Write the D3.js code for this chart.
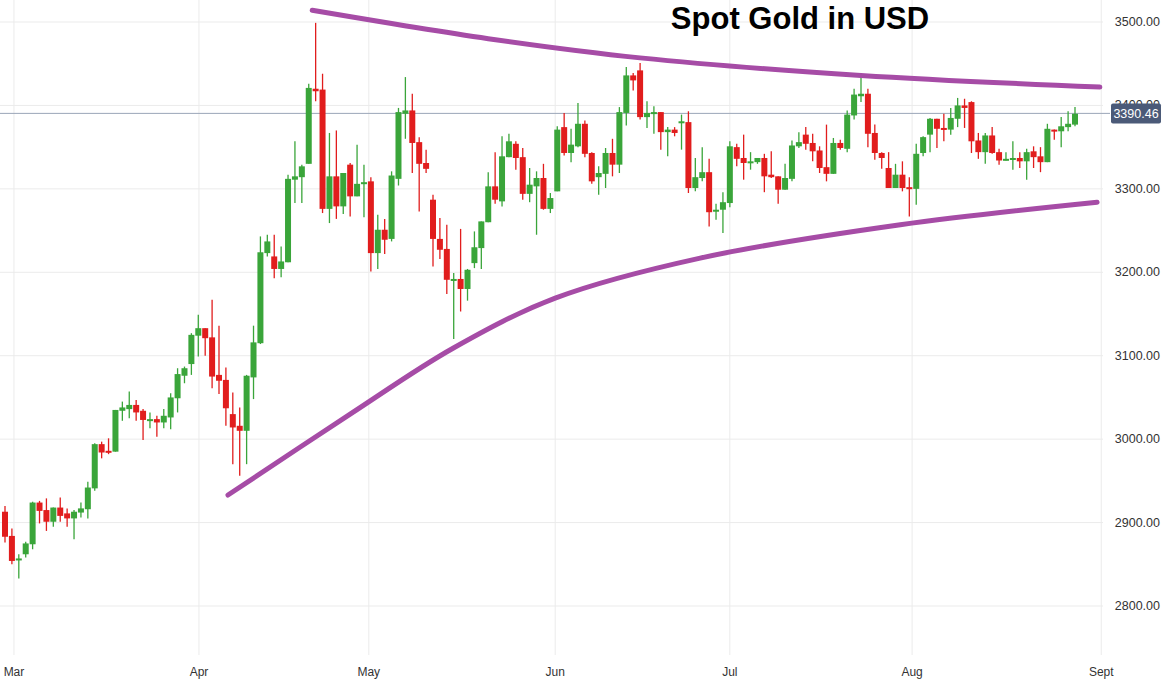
<!DOCTYPE html>
<html>
<head>
<meta charset="utf-8">
<script src="https://cdn.jsdelivr.net/npm/d3@7"></script>
<style>
body { margin: 0; background: #fff; }
svg { font-family: "Liberation Sans", Arial, sans-serif; }
</style>
</head>
<body>
<svg width="1165" height="685"></svg>
<script>
// daily candles, [open, high, low, close]
var candles = [
[2913,2920,2876,2883],[2884,2893,2850,2854],[2855,2862,2833,2857],[2862,2877,2858,2875],[2874,2925,2868,2924],
[2924,2926,2899,2914],[2915,2929,2890,2901],[2901,2918,2895,2918],[2918,2930,2901,2908],[2911,2917,2895,2905],
[2905,2915,2880,2913],[2912,2924,2906,2917],[2916,2949,2905,2942],[2941,2995,2938,2994],[2994,2997,2977,2984],
[2986,3001,2982,2985],[2985,3035,2985,3035],[3034,3045,3022,3038],[3036,3057,3025,3041],[3041,3047,3022,3032],
[3034,3036,2999,3023],[3023,3032,3013,3024],[3024,3028,3003,3020],[3020,3036,3013,3028],[3026,3055,3012,3050],
[3049,3085,3032,3078],[3076,3087,3067,3085],[3090,3127,3077,3125],[3124,3149,3099,3133],[3133,3133,3100,3121],
[3122,3167,3061,3075],[3077,3136,3054,3070],[3071,3086,3016,3037],[3030,3056,2970,3014],[3016,3038,2956,3010],
[3010,3077,2970,3076],[3074,3136,3048,3116],[3115,3243,3114,3224],[3223,3245,3219,3237],[3219,3245,3193,3204],
[3204,3231,3194,3213],[3212,3317,3212,3312],[3311,3357,3283,3315],[3314,3329,3283,3327],[3330,3426,3330,3421],
[3420,3499,3405,3417],[3419,3438,3271,3276],[3276,3367,3259,3315],[3315,3370,3264,3279],[3279,3319,3270,3319],
[3329,3331,3267,3291],[3291,3353,3291,3306],[3306,3329,3266,3308],[3309,3314,3201,3223],[3223,3269,3204,3251],
[3251,3264,3222,3239],[3240,3321,3237,3316],[3312,3397,3304,3392],[3390,3434,3360,3394],[3394,3414,3319,3355],
[3356,3362,3273,3330],[3331,3347,3319,3324],[3287,3293,3207,3240],[3240,3265,3216,3227],[3228,3257,3174,3191],
[3191,3199,3120,3192],[3192,3252,3153,3180],[3180,3204,3166,3203],[3211,3249,3205,3230],[3229,3261,3204,3261],
[3260,3320,3260,3303],[3303,3344,3282,3287],[3285,3363,3279,3339],[3338,3366,3338,3357],[3354,3357,3323,3337],
[3338,3349,3287,3294],[3294,3325,3284,3305],[3303,3321,3245,3313],[3313,3330,3275,3276],[3276,3295,3271,3289],
[3297,3375,3297,3371],[3374,3391,3340,3343],[3343,3372,3332,3353],[3351,3403,3350,3378],[3378,3382,3338,3342],
[3343,3344,3306,3309],[3314,3327,3293,3319],[3318,3349,3301,3343],[3343,3360,3315,3329],[3329,3398,3319,3392],
[3391,3446,3376,3436],[3436,3439,3418,3430],[3442,3451,3383,3386],[3386,3405,3373,3391],[3390,3399,3366,3392],
[3392,3392,3347,3368],[3368,3374,3339,3371],[3371,3374,3363,3367],[3380,3389,3347,3381],[3380,3393,3295,3301],
[3301,3337,3297,3314],[3313,3350,3309,3320],[3320,3336,3255,3272],[3273,3282,3263,3275],[3275,3296,3247,3284],
[3283,3357,3278,3351],[3350,3354,3327,3336],[3337,3365,3311,3331],[3331,3344,3323,3333],[3332,3337,3330,3337],
[3337,3342,3296,3315],[3317,3345,3313,3314],[3315,3315,3282,3299],[3299,3330,3299,3313],[3312,3358,3309,3352],
[3351,3368,3349,3356],[3365,3374,3347,3354],[3355,3366,3333,3345],[3346,3351,3319,3325],[3326,3377,3309,3318],
[3318,3361,3318,3355],[3355,3359,3347,3349],[3348,3394,3344,3389],[3388,3420,3383,3413],[3411,3439,3404,3414],
[3414,3420,3350,3366],[3367,3377,3335,3343],[3343,3344,3324,3337],[3325,3344,3301,3301],[3301,3330,3301,3317],
[3317,3333,3297,3301],[3302,3314,3267,3300],[3300,3354,3281,3342],[3343,3363,3339,3362],[3365,3385,3344,3384],
[3384,3384,3349,3372],[3373,3390,3357,3371],[3371,3397,3365,3385],[3384,3409,3374,3400],[3400,3408,3373,3397],
[3404,3405,3343,3357],[3358,3367,3336,3344],[3344,3367,3330,3364],[3364,3374,3342,3343],[3344,3348,3329,3334],
[3335,3344,3334,3336],[3335,3357,3323,3337],[3337,3344,3325,3333],[3333,3348,3311,3344],[3345,3351,3325,3338],
[3339,3350,3320,3332],[3332,3378,3332,3372],[3371,3371,3359,3369],[3369,3386,3350,3375],[3374,3393,3369,3378],
[3377,3398,3375,3390]
];

var monthLabels = ["Mar", "Apr", "May", "Jun", "Jul", "Aug", "Sept"];
var monthIndex = [1.3, 28.1, 52.7, 79.7, 105.0, 131.4, 158.8];
var priceTicks = [2800, 2900, 3000, 3100, 3200, 3300, 3400, 3500];
var lastPrice = 3390.46;

// hand drawn trend lines, [candle index, price]
var upperTrend = [[44.5, 3514], [70, 3480], [92, 3457], [124, 3436], [158.6, 3422]];
var lowerTrend = [[32.3, 2933], [50, 3030], [64.9, 3109], [79.7, 3169], [100.7, 3217], [129.7, 3257], [158.2, 3284]];

var svg = d3.select("svg");
var x = d3.scaleLinear().domain([0, 155]).range([5, 1075]);
var y = d3.scaleLinear().domain([2800, 3500]).range([606, 22]);

var grid = svg.append("g");
grid.selectAll(".hg").data(priceTicks).enter().append("line")
    .attr("x1", 0).attr("x2", 1103)
    .attr("y1", d => y(d)).attr("y2", d => y(d))
    .attr("stroke", "#ebebeb").attr("stroke-width", 1);
grid.selectAll(".vg").data(monthIndex).enter().append("line")
    .attr("x1", d => x(d)).attr("x2", d => x(d))
    .attr("y1", 0).attr("y2", 655)
    .attr("stroke", "#ebebeb").attr("stroke-width", 1);

svg.append("line")
    .attr("x1", 0).attr("x2", 1110)
    .attr("y1", y(lastPrice)).attr("y2", y(lastPrice))
    .attr("stroke", "#9aa6b8").attr("stroke-width", 1);

var up = "#3aa53a", down = "#e11d1d";
var g = svg.append("g");
var cg = g.selectAll("g").data(candles).enter().append("g")
    .attr("fill", d => d[3] >= d[0] ? up : down)
    .attr("stroke", d => d[3] >= d[0] ? up : down);
cg.append("line")
    .attr("x1", (d, i) => x(i)).attr("x2", (d, i) => x(i))
    .attr("y1", d => y(d[1])).attr("y2", d => y(d[2]))
    .attr("stroke-width", 1.3);
cg.append("rect")
    .attr("x", (d, i) => x(i) - 3)
    .attr("width", 6)
    .attr("y", d => y(Math.max(d[0], d[3])))
    .attr("height", d => Math.max(2, Math.abs(y(d[0]) - y(d[3]))))
    .attr("stroke", "none");

var line = d3.line().x(d => x(d[0])).y(d => y(d[1])).curve(d3.curveCatmullRom);
[upperTrend, lowerTrend].forEach(function(t) {
    svg.append("path").attr("d", line(t))
        .attr("fill", "none").attr("stroke", "#a64ca6")
        .attr("stroke-width", 5).attr("stroke-linecap", "round");
});

// the 3400 label sits under the price box, as in the source chart
svg.selectAll(".yl").data(priceTicks).enter().append("text")
    .attr("x", 1160).attr("y", d => y(d) + 4)
    .attr("text-anchor", "end").attr("font-size", 12.5).attr("fill", "#333")
    .text(d => d.toFixed(2));

svg.append("rect").attr("x", 1111).attr("y", y(lastPrice) - 10)
    .attr("width", 50).attr("height", 20).attr("rx", 2).attr("fill", "#4b5a78");
svg.append("text").attr("x", 1136).attr("y", y(lastPrice) + 5)
    .attr("text-anchor", "middle").attr("font-size", 12.5).attr("fill", "#fff")
    .text(lastPrice.toFixed(2));

svg.selectAll(".xl").data(monthLabels).enter().append("text")
    .attr("x", (d, i) => x(monthIndex[i])).attr("y", 676)
    .attr("text-anchor", "middle").attr("font-size", 12).attr("fill", "#333")
    .text(d => d);

svg.append("text").attr("x", 800).attr("y", 29)
    .attr("text-anchor", "middle").attr("font-size", 31).attr("font-weight", "bold")
    .attr("fill", "#000").text("Spot Gold in USD");
</script>
</body>
</html>
